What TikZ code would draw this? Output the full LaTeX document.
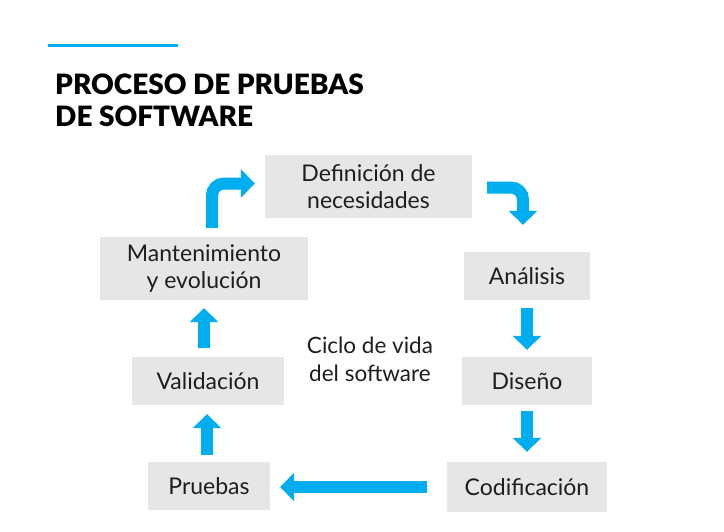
\documentclass[tikz,border=0pt]{standalone}
\usepackage{fontspec}
\setmainfont{Lato}
\newfontfamily\titlefont{Lato Black}
\usetikzlibrary{arrows.meta,calc}
\definecolor{cyanb}{RGB}{0,174,239}
\definecolor{boxg}{RGB}{230,230,230}
\definecolor{txt}{RGB}{30,30,30}
\tikzset{
  stepbox/.style={fill=boxg, draw=none, inner sep=0pt, align=center, text=txt,
    font=\fontsize{23}{27}\selectfont},
  bigarrow/.style={draw=cyanb, line width=12pt,
    -{Triangle[width=28pt,length=14pt]}},
}
\begin{document}
\begin{tikzpicture}[x=1pt,y=-1pt]
\useasboundingbox[fill=white] (0,0) rectangle (724,531);
% decorative line
\draw[cyanb, line width=3pt] (48,45) -- (178,45);
% title
\node[anchor=base west, inner sep=0pt, text=black, font=\fontsize{28}{32}\titlefont, align=left] (title) at (55,126) {PROCESO DE PRUEBAS\\DE SOFTWARE};
% boxes
\node[stepbox, minimum width=207pt, minimum height=63pt] (def) at (368.5,186.5) {Definición de\\necesidades};
\node[stepbox, minimum width=208pt, minimum height=63pt] (mant) at (204,268.5) {Mantenimiento\\y evolución};
\node[stepbox, minimum width=126pt, minimum height=48pt] (ana) at (527,276) {Análisis};
\node[stepbox, minimum width=152pt, minimum height=48pt] (val) at (208,381) {Validación};
\node[stepbox, minimum width=130pt, minimum height=48pt] (dis) at (527,381) {Diseño};
\node[stepbox, minimum width=122pt, minimum height=48pt] (pru) at (209,486) {Pruebas};
\node[stepbox, minimum width=160pt, minimum height=50pt] (cod) at (527,487) {Codificación};
\node[inner sep=0pt, align=center, text=txt, font=\fontsize{22.5}{28}\selectfont] (center) at (370,359) {Ciclo de vida\\del software};
% arrows
\draw[bigarrow, rounded corners=12pt] ([shift={(8,-9)}]mant.north) |- ([shift={(-10,-3)}]def.west);
\draw[bigarrow, rounded corners=12pt] ([shift={(15,1)}]def.east) -| ([shift={(-4,-27)}]ana.north);
\draw[bigarrow, shorten <=8pt, shorten >=7pt] (ana.south) -- (dis.north);
\draw[bigarrow, shorten <=6pt, shorten >=10pt] (dis.south) -- (cod.north);
\draw[bigarrow, shorten <=20pt, shorten >=10pt] (cod.west) -- (pru.east |- cod.west);
\draw[bigarrow, shorten <=7pt, shorten >=9pt] ([xshift=-2pt]pru.north) -- ([xshift=-1pt]val.south);
\draw[bigarrow, shorten <=9pt, shorten >=8pt] ([xshift=-4pt]val.north) -- (mant.south);
\end{tikzpicture}
\end{document}
